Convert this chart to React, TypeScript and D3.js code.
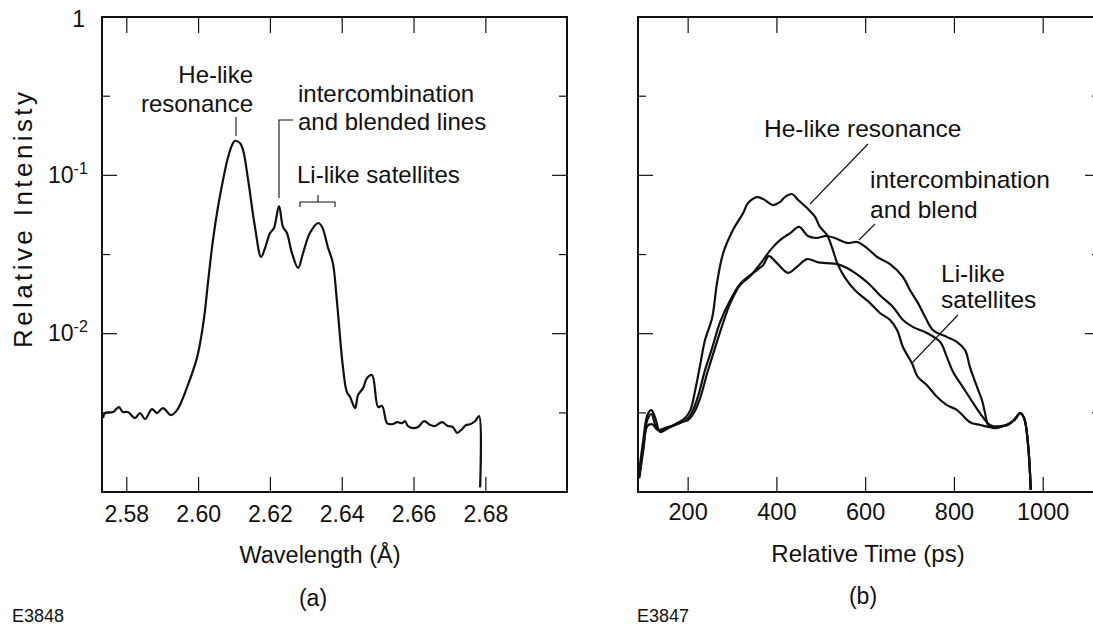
import React from 'react';
import * as d3 from 'd3';

// (a) spectrum
const specWavelength = [
  2.5734, 2.5739, 2.5762, 2.5778, 2.5789, 2.5803, 2.5823, 2.5837, 2.5851, 2.5870, 2.5884, 2.5901, 2.5923, 2.5940,
  2.5968, 2.5996, 2.6009, 2.6018, 2.6026, 2.6040, 2.6054, 2.6068, 2.6082, 2.6093, 2.6101, 2.6115, 2.6124, 2.6138,
  2.6157, 2.6174, 2.6185, 2.6199, 2.6210, 2.6224, 2.6235, 2.6246, 2.6260, 2.6277, 2.6291, 2.6310, 2.6333, 2.6344,
  2.6360, 2.6374, 2.6385, 2.6402, 2.6413, 2.6422, 2.6436, 2.6444, 2.6458, 2.6469, 2.6483, 2.6500, 2.6511, 2.6525,
  2.6539, 2.6553, 2.6567, 2.6575, 2.6583, 2.6597, 2.6611, 2.6628, 2.6645, 2.6658, 2.6678, 2.6694, 2.6708, 2.6720,
  2.6734, 2.6745, 2.6756, 2.6770, 2.6781, 2.6784,
];
const specIntensity = [
  0.00293, 0.00315, 0.0032, 0.00344, 0.0032, 0.0032, 0.00293, 0.00315, 0.00289, 0.00334, 0.00315, 0.00339, 0.00306, 0.00329,
  0.0046, 0.00711, 0.0101, 0.0141, 0.0209, 0.039, 0.0631, 0.0934, 0.13, 0.155, 0.165, 0.16, 0.144, 0.0934,
  0.0472, 0.0305, 0.0347, 0.0432, 0.0465, 0.064, 0.0472, 0.0432, 0.0323, 0.026, 0.0323, 0.0432, 0.05, 0.0472,
  0.0352, 0.0279, 0.0163, 0.00615, 0.00428, 0.00398, 0.00339, 0.00409, 0.00453, 0.00524, 0.00548, 0.00344, 0.0035, 0.00272,
  0.00268, 0.00276, 0.00272, 0.0028, 0.00261, 0.00253, 0.00257, 0.0028, 0.00265, 0.00261, 0.00276, 0.00261, 0.00257, 0.00236,
  0.0025, 0.00265, 0.00268, 0.0028, 0.00302, 0.00107,
];

// (b) time histories
const heTime = [
  90, 99, 108, 117, 126, 137, 155, 175, 193, 205, 216, 227, 238, 254, 265, 279, 301, 324, 335, 355, 369, 391, 407, 418,
  434, 448, 468, 486, 497, 513, 524, 536, 554, 576, 594, 610, 632, 655, 671, 684, 704, 718, 738, 761, 783, 806, 835, 858,
  880, 903, 921, 936, 948, 957, 966, 972,
];
const heIntensity = [
  0.00137, 0.00213, 0.00306, 0.00329, 0.00293, 0.00239, 0.00253, 0.00272, 0.00293, 0.00329, 0.00441, 0.00634, 0.00912,
  0.01256, 0.0209, 0.0323, 0.0451, 0.0578, 0.0668, 0.0729, 0.0708, 0.0649, 0.0678, 0.0729, 0.0762, 0.0698, 0.0621, 0.0546,
  0.0472, 0.042, 0.0352, 0.0279, 0.0224, 0.0188, 0.017, 0.0156, 0.0135, 0.0122, 0.0105, 0.00823, 0.00652, 0.00532, 0.00473,
  0.00398, 0.00354, 0.00329, 0.00276, 0.00265, 0.00257, 0.00261, 0.00265, 0.00289, 0.00315, 0.00293, 0.00198, 0.00103,
];
const liTime = [
  90, 99, 108, 117, 128, 139, 155, 171, 186, 200, 211, 223, 238, 254, 272, 295, 317, 340, 355, 369, 382, 400, 425, 445,
  468, 491, 513, 536, 558, 576, 592, 610, 632, 662, 684, 707, 738, 768, 783, 797, 819, 842, 864, 880, 903, 921, 936, 948,
  957, 966, 972,
];
const liIntensity = [
  0.00128, 0.00192, 0.00285, 0.00311, 0.00257, 0.00243, 0.00257, 0.00265, 0.00276, 0.00293, 0.00329, 0.00409, 0.00589,
  0.00811, 0.01183, 0.0163, 0.0206, 0.0234, 0.0252, 0.0271, 0.0309, 0.0279, 0.0242, 0.0264, 0.0296, 0.0283, 0.0279, 0.0275,
  0.026, 0.0242, 0.0224, 0.0203, 0.0175, 0.0147, 0.0122, 0.011, 0.0101, 0.00885, 0.00711, 0.00572, 0.0046, 0.00365, 0.00297,
  0.00265, 0.00257, 0.00268, 0.00285, 0.00315, 0.00293, 0.00198, 0.00103,
];
const icTime = [
  90, 99, 108, 119, 132, 148, 164, 182, 200, 214, 227, 243, 259, 277, 295, 317, 340, 362, 389, 407, 430, 450, 470, 488,
  513, 536, 558, 581, 603, 626, 655, 684, 700, 718, 734, 752, 783, 806, 824, 835, 851, 862, 869, 876, 891, 909, 925, 936,
  948, 957, 966, 972,
];
const icIntensity = [
  0.00122, 0.00184, 0.00261, 0.00268, 0.00246, 0.00253, 0.00261, 0.00276, 0.00285, 0.0032, 0.00392, 0.00564, 0.00787,
  0.01133, 0.0156, 0.0203, 0.0231, 0.0275, 0.0347, 0.039, 0.0432, 0.0472, 0.0414, 0.0402, 0.0414, 0.0396, 0.0374, 0.0379,
  0.0347, 0.0305, 0.0275, 0.0228, 0.0188, 0.0156, 0.01274, 0.0105, 0.00953, 0.00885, 0.00787, 0.00615, 0.0046, 0.00381,
  0.00315, 0.00265, 0.00253, 0.00261, 0.00272, 0.00289, 0.00315, 0.00293, 0.00198, 0.00103,
];

const waveTicks = [2.58, 2.6, 2.62, 2.64, 2.66, 2.68];
const timeTicks = [200, 400, 600, 800, 1000];
const decadeTicks = [0.1, 0.01];
const halfDecadeTicks = [0.316, 0.0316, 0.00316];

const font = '"Liberation Sans", Arial, Helvetica, sans-serif';

const top = 17;
const bottom = 492;

const xWave = d3.scaleLinear().domain([2.5731, 2.7026]).range([102, 567]);
const xTime = d3.scaleLinear().domain([87, 1128]).range([638, 1100]);
const yInt = d3.scaleLog().domain([0.001, 1]).range([bottom, top]);

type Pt = [number, number];
const zip = (xs: number[], ys: number[]): Pt[] => xs.map((x, i) => [x, ys[i]]);

const Frame = ({ x0, x1, xTicks, xs }: { x0: number; x1: number; xTicks: number[]; xs: (v: number) => number }) => (
  <g stroke="#111" fill="none">
    <rect x={x0} y={top} width={x1 - x0} height={bottom - top} strokeWidth={2} />
    {xTicks.map(t => (
      <g key={t}>
        <line x1={xs(t)} x2={xs(t)} y1={bottom} y2={bottom - 15} strokeWidth={1.2} />
        <line x1={xs(t)} x2={xs(t)} y1={top} y2={top + 16} strokeWidth={1.2} />
      </g>
    ))}
    {decadeTicks.map(v => (
      <g key={v}>
        <line x1={x0} x2={x0 + 15} y1={yInt(v)} y2={yInt(v)} strokeWidth={1.2} />
        <line x1={x1} x2={x1 - 15} y1={yInt(v)} y2={yInt(v)} strokeWidth={1.2} />
      </g>
    ))}
    {halfDecadeTicks.map(v => (
      <g key={v}>
        <line x1={x0} x2={x0 + 8} y1={yInt(v)} y2={yInt(v)} strokeWidth={1.2} />
        <line x1={x1} x2={x1 - 8} y1={yInt(v)} y2={yInt(v)} strokeWidth={1.2} />
      </g>
    ))}
  </g>
);

const App = () => {
  const specLine = d3
    .line<Pt>()
    .x(d => xWave(d[0]))
    .y(d => yInt(d[1]))
    .curve(d3.curveCatmullRom.alpha(0.5));
  const timeLine = d3
    .line<Pt>()
    .x(d => xTime(d[0]))
    .y(d => yInt(d[1]))
    .curve(d3.curveCatmullRom.alpha(0.5));

  const series = [zip(heTime, heIntensity), zip(liTime, liIntensity), zip(icTime, icIntensity)];

  return (
    <svg
      width={1093}
      height={627}
      style={{ position: 'absolute', left: 0, top: 0, background: '#fff' }}
      fontFamily={font}
    >
      <rect width={1093} height={627} fill="#fff" />

      {/* panel (a) */}
      <Frame x0={102} x1={567} xTicks={waveTicks} xs={xWave} />
      <path d={specLine(zip(specWavelength, specIntensity)) || ''} fill="none" stroke="#111" strokeWidth={2.2} />

      {waveTicks.map(t => (
        <text key={t} x={xWave(t)} y={522} fontSize={23} textAnchor="middle" fill="#111">
          {t.toFixed(2)}
        </text>
      ))}
      <text x={85} y={27} fontSize={23} textAnchor="end" fill="#111">1</text>
      <text x={48} y={183} fontSize={23} fill="#111">
        10<tspan fontSize={16} dy={-9}>-1</tspan>
      </text>
      <text x={48} y={341} fontSize={23} fill="#111">
        10<tspan fontSize={16} dy={-9}>-2</tspan>
      </text>
      <text
        transform="translate(32,220) rotate(-90)"
        fontSize={26}
        textAnchor="middle"
        textLength={256}
        lengthAdjust="spacing"
        fill="#111"
      >
        Relative Intenisty
      </text>
      <text x={320} y={563} fontSize={23.5} textAnchor="middle" fill="#111">Wavelength (Å)</text>
      <text x={313} y={606} fontSize={23} textAnchor="middle" fill="#111">(a)</text>
      <text x={12} y={622} fontSize={18} fill="#111">E3848</text>

      <g fill="#111" fontSize={24}>
        <text x={253} y={83} textAnchor="end">He-like</text>
        <text x={253} y={112} textAnchor="end">resonance</text>
        <text x={298} y={102}>intercombination</text>
        <text x={298} y={130}>and blended lines</text>
        <text x={297} y={183}>Li-like satellites</text>
      </g>
      <g stroke="#111" strokeWidth={1.1} fill="none">
        <line x1={236} x2={236} y1={117} y2={136} />
        <polyline points="293,120 279,120 279,198" />
        <polyline points="300,207 300,202 335,202 335,207" />
        <line x1={318} x2={318} y1={195} y2={202} />
      </g>

      {/* panel (b) */}
      <Frame x0={638} x1={1100} xTicks={timeTicks} xs={xTime} />
      {series.map((s, i) => (
        <path key={i} d={timeLine(s) || ''} fill="none" stroke="#111" strokeWidth={2.2} />
      ))}
      {timeTicks.map(t => (
        <text key={t} x={xTime(t)} y={520} fontSize={23.5} textAnchor="middle" fill="#111">
          {t}
        </text>
      ))}
      <text x={868} y={562} fontSize={24} textAnchor="middle" fill="#111">Relative Time (ps)</text>
      <text x={863} y={604} fontSize={23} textAnchor="middle" fill="#111">(b)</text>
      <text x={637} y={622} fontSize={18} fill="#111">E3847</text>

      <g fill="#111" fontSize={24.5}>
        <text x={764} y={137}>He-like resonance</text>
        <text x={870} y={188}>intercombination</text>
        <text x={870} y={218}>and blend</text>
        <text x={941} y={282}>Li-like</text>
        <text x={941} y={308}>satellites</text>
      </g>
      <g stroke="#111" strokeWidth={1.1}>
        <line x1={868} y1={144} x2={810} y2={204} />
        <line x1={875} y1={224} x2={859} y2={240} />
        <line x1={958} y1={315} x2={912} y2={363} />
      </g>
    </svg>
  );
};

export default App;
